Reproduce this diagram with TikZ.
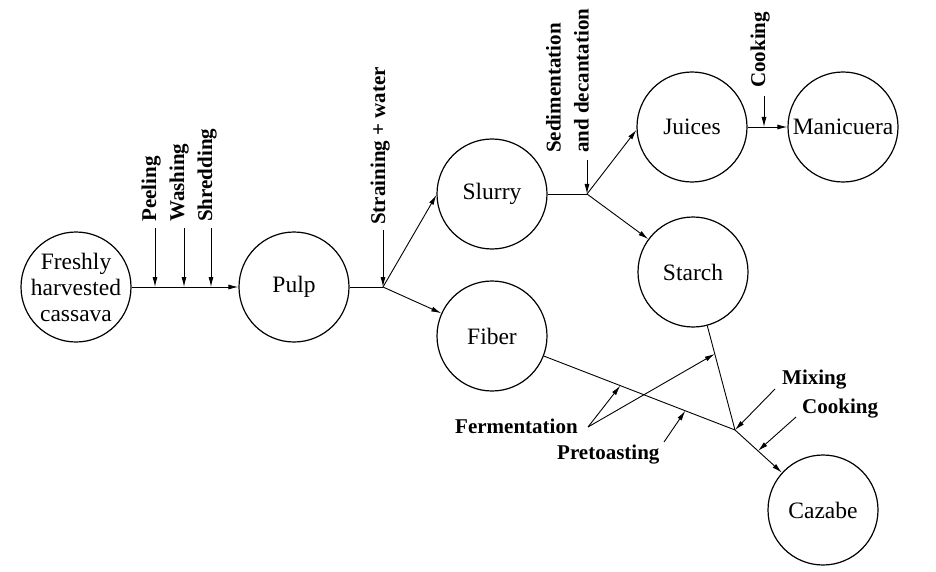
\documentclass[tikz,border=0pt]{standalone}
\usepackage{fontspec}
\setmainfont{Liberation Serif}
\usetikzlibrary{arrows.meta,calc}
\tikzset{
  proc/.style={circle,draw,line width=1.2pt,minimum size=110pt,inner sep=0pt,align=center,font=\fontsize{23.5}{26}\selectfont},
  lbl/.style={font=\bfseries\fontsize{21}{28}\selectfont,inner sep=0pt},
  vlbl/.style={lbl,rotate=90,anchor=base west},
  flow/.style={line width=0.9pt,-{Latex[length=10pt,width=5pt]}},
  link/.style={line width=0.9pt},
}
\begin{document}
\begin{tikzpicture}[x=1pt,y=-1pt]
\useasboundingbox[fill=white] (0,0) rectangle (936,572);
% process nodes
\node[proc,inner sep=-5pt] (cas) at (76,287) {Freshly\\harvested\\cassava};
\node[proc] (pulp) at (294,287) {Pulp};
\node[proc] (slurry) at (492,194) {Slurry};
\node[proc] (fiber) at (492,336) {Fiber};
\node[proc] (juices) at (692,127) {Juices};
\node[proc] (mani) at (843,127) {Manicuera};
\node[proc] (starch) at (693,272) {Starch};
\node[proc] (cazabe) at (823,510) {Cazabe};
% junctions
\coordinate (j1) at (383,287);
\coordinate (j2) at (587,194);
\coordinate (m) at (735,430);
% cassava -> pulp
\draw[flow] (cas) -- (pulp);
\coordinate (pe) at (155,228);
\coordinate (wa) at (184,228);
\coordinate (sh) at (211,228);
\draw[flow] (pe) -- (pe |- cas);
\draw[flow] (wa) -- (wa |- cas);
\draw[flow] (sh) -- (sh |- cas);
\node[vlbl] (lpe) at (156,222) {Peeling};
\node[vlbl] (lwa) at (184,222) {Washing};
\node[vlbl] (lsh) at (212,222) {Shredding};
% pulp -> slurry / fiber
\draw[link] (pulp) -- (j1);
\coordinate (st) at (383,230);
\draw[flow] (st) -- (j1);
\node[vlbl] (lst) at (385,225) {Straining + water};
\draw[flow] (j1) -- (slurry.181);
\draw[flow] (j1) -- (fiber);
% slurry -> juices / starch
\draw[link] (slurry) -- (j2);
\coordinate (sd) at (587,160);
\draw[flow] (sd) -- (j2);
\node[lbl,rotate=90,anchor=south west,align=left] (lsd) at (589,153) {Sedimentation\\and decantation};
\draw[flow] (j2) -- (juices.183);
\draw[flow] (j2) -- (starch);
% juices -> manicuera
\draw[flow] (juices) -- (mani);
\coordinate (ck) at (764,96);
\draw[flow] (ck) -- (ck |- juices);
\node[vlbl] (lck) at (765,88) {Cooking};
% fiber, starch -> cazabe
\draw[link] (fiber) -- coordinate[pos=0.40] (fe1) coordinate[pos=0.74] (pt) (m);
\draw[link] (starch) -- coordinate[pos=0.27] (fe2) (m);
\draw[flow] (m) -- coordinate[pos=0.49] (ck2) (cazabe);
\node[lbl,anchor=base west] (lfe) at (455,433) {Fermentation};
\coordinate (fs) at (588,427);
\draw[flow] (fs) -- (fe1);
\draw[flow] (fs) -- (fe2);
\node[lbl,anchor=base west] (lpt) at (557,459) {Pretoasting};
\coordinate (ps) at (664,442);
\draw[flow] (ps) -- (pt);
\node[lbl,anchor=base west] (lmx) at (782,384) {Mixing};
\coordinate (ms) at (775,389);
\draw[flow] (ms) -- (m);
\node[lbl,anchor=base west] (lck2) at (802,413) {Cooking};
\coordinate (cs) at (796,417);
\draw[flow] (cs) -- (ck2);
\end{tikzpicture}
\end{document}
